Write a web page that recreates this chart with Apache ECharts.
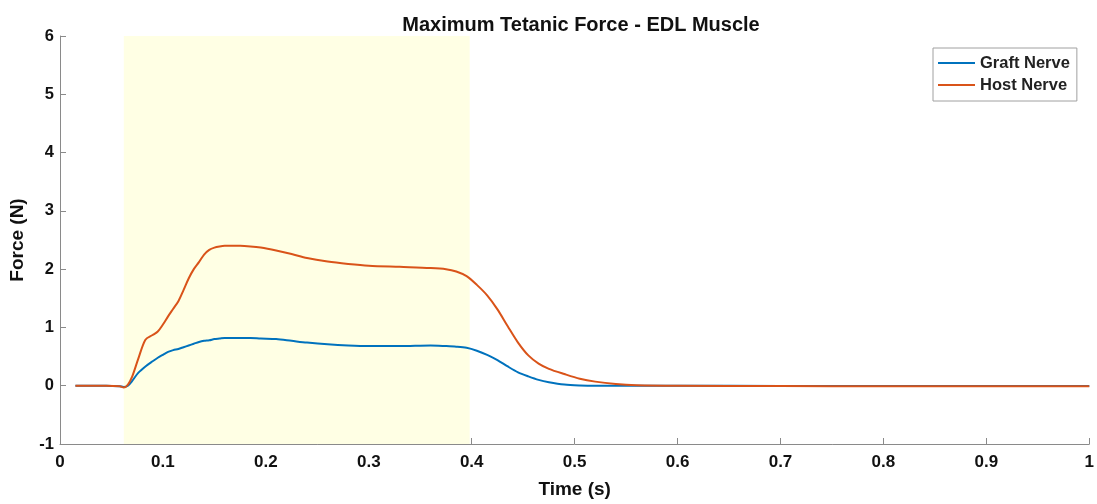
<!DOCTYPE html>
<html>
<head>
<meta charset="utf-8">
<script src="https://cdn.jsdelivr.net/npm/echarts@6/dist/echarts.min.js"></script>
<style>html,body{margin:0;padding:0;background:#fff;}#c{width:1097px;height:504px;}</style>
</head>
<body>
<div id="c"></div>
<script>
const titleText = 'Maximum Tetanic Force - EDL Muscle';
const xName = 'Time (s)';
const yName = 'Force (N)';
const seriesNames = ['Graft Nerve', 'Host Nerve'];
const stimWindow = [0.062, 0.398];

const times = [0.015, 0.03, 0.045, 0.058, 0.062, 0.066, 0.07, 0.076, 0.083, 0.09, 0.095, 0.1, 0.105, 0.11, 0.115, 0.12, 0.125, 0.13, 0.135, 0.14, 0.145, 0.15, 0.155, 0.16, 0.166, 0.175, 0.185, 0.195, 0.21, 0.225, 0.24, 0.26, 0.28, 0.3, 0.33, 0.36, 0.375, 0.385, 0.395, 0.405, 0.415, 0.425, 0.435, 0.445, 0.455, 0.465, 0.475, 0.49, 0.505, 0.52, 0.54, 0.56, 0.6, 0.7, 0.8, 0.9, 1.0];

const graft = [0, 0, 0, -0.01, -0.02, 0.0, 0.08, 0.22, 0.33, 0.42, 0.48, 0.53, 0.58, 0.61, 0.63, 0.66, 0.69, 0.72, 0.75, 0.77, 0.78, 0.8, 0.81, 0.82, 0.82, 0.82, 0.82, 0.81, 0.8, 0.77, 0.74, 0.71, 0.69, 0.68, 0.68, 0.69, 0.68, 0.67, 0.65, 0.6, 0.53, 0.44, 0.33, 0.23, 0.16, 0.1, 0.06, 0.02, 0.005, 0, 0, 0, 0, -0.005, -0.005, -0.005, -0.005];

const host = [0, 0, 0, -0.01, -0.03, 0.02, 0.15, 0.46, 0.79, 0.87, 0.93, 1.05, 1.19, 1.32, 1.45, 1.64, 1.84, 2.0, 2.12, 2.25, 2.33, 2.37, 2.39, 2.4, 2.4, 2.4, 2.39, 2.37, 2.32, 2.26, 2.19, 2.13, 2.09, 2.06, 2.04, 2.02, 2.0, 1.96, 1.88, 1.73, 1.55, 1.31, 1.02, 0.74, 0.52, 0.38, 0.29, 0.2, 0.12, 0.07, 0.03, 0.01, 0, -0.005, -0.01, -0.01, -0.01];

const xTicks = [0, 0.1, 0.2, 0.3, 0.4, 0.5, 0.6, 0.7, 0.8, 0.9, 1];
const yTicks = [-1, 0, 1, 2, 3, 4, 5, 6];

const FONT = "'Liberation Sans', Arial, Helvetica, sans-serif";
const pair = (vals) => times.map((t, i) => [t, vals[i]]);

const chart = echarts.init(document.getElementById('c'), null, {renderer: 'canvas'});
chart.setOption({
  animation: false,
  backgroundColor: '#ffffff',
  title: {
    text: titleText,
    left: 576, top: 10,
    textAlign: 'center',
    textStyle: {fontFamily: FONT, fontWeight: 'bold', fontSize: 20, color: '#111'}
  },
  grid: {left: 59, right: 7, top: 36, bottom: 56, containLabel: false},
  legend: {
    data: seriesNames,
    orient: 'vertical',
    left: 933, top: 48,
    padding: [6, 7, 7, 5],
    itemGap: 4,
    itemWidth: 37, itemHeight: 2,
    icon: 'rect',
    backgroundColor: '#fff',
    borderColor: '#a0a0a0',
    borderWidth: 1,
    textStyle: {fontFamily: FONT, fontWeight: 'bold', fontSize: 16.5, lineHeight: 18, color: '#222'}
  },
  xAxis: {
    type: 'value',
    min: 0, max: 1, interval: 0.1,
    name: xName,
    nameLocation: 'middle',
    nameGap: 36,
    nameTextStyle: {fontFamily: FONT, fontWeight: 'bold', fontSize: 19, color: '#111'},
    axisLine: {show: true, onZero: false, lineStyle: {color: '#8a8a8a', width: 1}},
    axisTick: {show: true, inside: true, length: 6, lineStyle: {color: '#8a8a8a'}},
    axisLabel: {fontFamily: FONT, fontWeight: 'bold', fontSize: 17, color: '#111', margin: 10,
      formatter: v => String(+v.toFixed(1))},
    splitLine: {show: false}
  },
  yAxis: {
    type: 'value',
    min: -1, max: 6, interval: 1,
    name: yName,
    nameLocation: 'middle',
    nameGap: 33,
    nameTextStyle: {fontFamily: FONT, fontWeight: 'bold', fontSize: 19, color: '#111'},
    axisLine: {show: true, onZero: false, lineStyle: {color: '#8a8a8a', width: 1}},
    axisTick: {show: true, inside: true, length: 6, lineStyle: {color: '#8a8a8a'}},
    axisLabel: {fontFamily: FONT, fontWeight: 'bold', fontSize: 16.5, color: '#111', margin: 6},
    splitLine: {show: false}
  },
  series: [
    {
      name: 'stim',
      type: 'line',
      data: [],
      silent: true,
      z: 0,
      markArea: {
        silent: true,
        itemStyle: {color: '#FFFFE4'},
        data: [[{xAxis: stimWindow[0], yAxis: -1}, {xAxis: stimWindow[1], yAxis: 6}]]
      }
    },
    {
      name: seriesNames[1],
      type: 'line',
      data: pair(host),
      showSymbol: false,
      smooth: 0.3,
      z: 3,
      color: '#D95319',
      lineStyle: {width: 2, color: '#D95319'}
    },
    {
      name: seriesNames[0],
      type: 'line',
      data: pair(graft),
      showSymbol: false,
      smooth: 0.3,
      z: 2,
      color: '#0072BD',
      lineStyle: {width: 2, color: '#0072BD'}
    }
  ]
});
</script>
</body>
</html>
